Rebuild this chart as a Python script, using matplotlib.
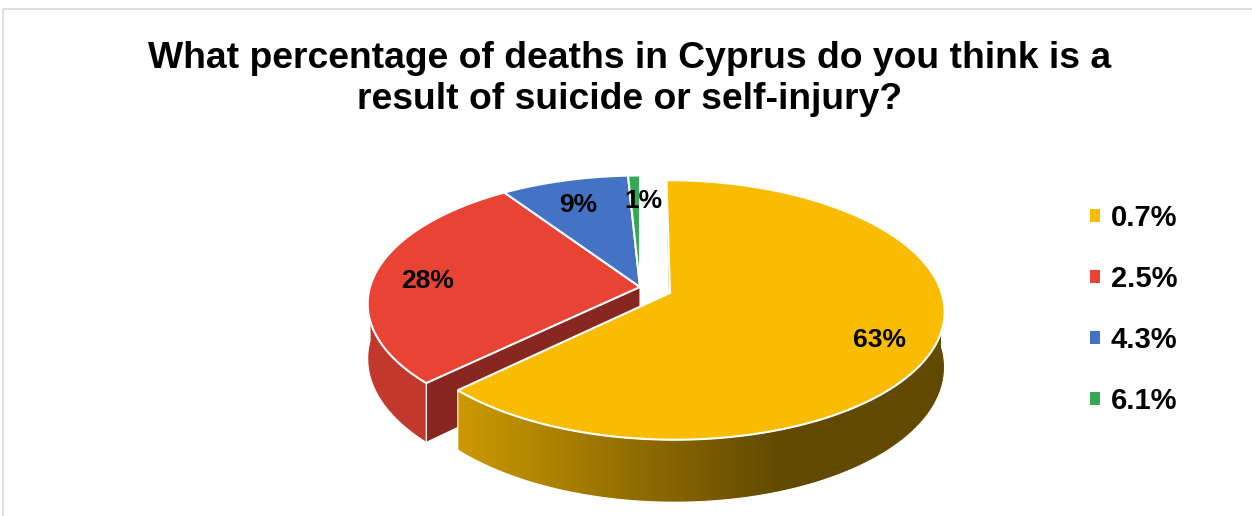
import numpy as np
import matplotlib
matplotlib.use("Agg")
import matplotlib.pyplot as plt
from matplotlib.patches import Polygon, Patch, Rectangle

plt.rcParams["font.family"] = ["Liberation Sans", "DejaVu Sans"]

# ── data ────────────────────────────────────────────────────────────────────
title = "What percentage of deaths in Cyprus do you think is a\nresult of suicide or self-injury?"
categories = ["0.7%", "2.5%", "4.3%", "6.1%"]
shares = [62.8, 27.8, 8.6, 0.8]
colors = ["#F9BC00", "#E84335", "#4472C4", "#34A853"]
explode = [0.12, 0.0, 0.0, 0.0]

# ── 3-D pie geometry (pixels) ───────────────────────────────────────────────
W, H = 1252, 516
CX, CY = 640, 287
RX, RY = 270, 126
DEPTH = 54
PERSP = 0.13


def proj(theta, r=1.0, off=(0.0, 0.0)):
    """theta in degrees, clockwise from 12 o'clock -> screen x, y, scale"""
    t = np.radians(theta)
    X = r * np.sin(t) + off[0]
    Z = -r * np.cos(t) + off[1]
    s = 1.0 / (1.0 - PERSP * Z)
    return CX + RX * X * s, CY + RY * Z * s, s, Z


def shade(x):
    # side walls: light on the left, dark toward the right
    return np.clip(0.82 - 0.43 * (x - 455) / 325, 0.39, 0.84)


def gradient_fill(ax, poly_xy, base):
    poly = Polygon(poly_xy, closed=True, facecolor="none", edgecolor="white",
                   linewidth=0.8, zorder=3)
    ax.add_patch(poly)
    x0, x1 = poly_xy[:, 0].min(), poly_xy[:, 0].max()
    y0, y1 = poly_xy[:, 1].min(), poly_xy[:, 1].max()
    xs = np.linspace(x0, x1, 300)
    rgb = np.array(matplotlib.colors.to_rgb(base))
    img = np.ones((1, len(xs), 4))
    img[0, :, :3] = rgb[None, :] * shade(xs)[:, None]
    im = ax.imshow(img, extent=(x0, x1, y1, y0), aspect="auto",
                   interpolation="bilinear", zorder=2)
    im.set_clip_path(poly)


fig = plt.figure(figsize=(W / 100, H / 100), dpi=100)
ax = fig.add_axes([0, 0, 1, 1])
ax.set_autoscale_on(False)
ax.set_xlim(0, W)
ax.set_ylim(H, 0)
ax.axis("off")

# chart-area border
ax.add_patch(Rectangle((3, 9), 1400, 700, fill=False, edgecolor="#D9D9D9",
                       linewidth=1.2, zorder=1))

total = sum(shares)
bounds = np.concatenate([[0], np.cumsum(shares) / total * 360])

sides = []   # (mean depth, kind, data)
tops = []
for i, (a0, a1) in enumerate(zip(bounds[:-1], bounds[1:])):
    mid = np.radians((a0 + a1) / 2)
    off = (explode[i] * np.sin(mid), -explode[i] * np.cos(mid))
    angs = np.linspace(a0, a1, max(4, int((a1 - a0) * 2)))
    vx, vy, vs, vz = proj(0, 0.0, off)
    px, py, ps, pz = proj(angs, 1.0, off)
    tops.append((i, np.column_stack([np.r_[vx, px], np.r_[vy, py]]), off, a0, a1))

    # outer wall (front half only)
    lo, hi = max(a0, 90), min(a1, 270)
    if hi > lo:
        wa = np.linspace(lo, hi, int((hi - lo) * 2) + 2)
        wx, wy, ws, wz = proj(wa, 1.0, off)
        xy = np.column_stack([np.r_[wx, wx[::-1]],
                              np.r_[wy, (wy + DEPTH * ws)[::-1]]])
        sides.append((wz.mean(), "wall", (xy, colors[i])))

    # radial cut faces
    for edge, vis in ((a0, 180 <= a0 < 360 or (a0 == 0 and explode[i] > 0)),
                      (a1, 0 < a1 < 180)):
        if not vis:
            continue
        ox, oy, os_, oz = proj(edge, 1.0, off)
        xy = np.array([[vx, vy], [ox, oy], [ox, oy + DEPTH * os_],
                       [vx, vy + DEPTH * vs]])
        sides.append(((vz + oz) / 2, "cut", (xy, colors[i])))

for _, kind, (xy, col) in sorted(sides, key=lambda s: s[0]):
    if kind == "wall":
        gradient_fill(ax, xy, col)
    else:
        rgb = np.array(matplotlib.colors.to_rgb(col)) * 0.58
        ax.add_patch(Polygon(xy, closed=True, facecolor=rgb, edgecolor="white",
                             linewidth=0.8, zorder=2))

for i, xy, off, a0, a1 in tops:
    ax.add_patch(Polygon(xy, closed=True, facecolor=colors[i],
                         edgecolor="white", linewidth=1.5, zorder=4))
    lx, ly, _, _ = proj((a0 + a1) / 2, 0.8, off)
    ax.text(lx + (8 if shares[i] < 2 else 0), ly + 5,
            f"{shares[i] / total * 100:.0f}%",
            ha="center", va="center", fontsize=19, fontweight="bold",
            color="black", zorder=5)

ax.text(630, 79, title, ha="center", va="center", fontsize=26.8,
        fontweight="bold", linespacing=1.2, zorder=5)

handles = [Patch(facecolor=c, edgecolor="none") for c in colors]
ax.legend(handles, categories, loc="upper left",
          bbox_to_anchor=(1090 / W, 1 - 204 / H), frameon=False,
          prop={"weight": "bold", "size": 21}, handlelength=0.33,
          handleheight=0.33, handletextpad=0.38, labelspacing=1.13,
          borderpad=0, borderaxespad=0)

fig.savefig("out.png", dpi=100)
